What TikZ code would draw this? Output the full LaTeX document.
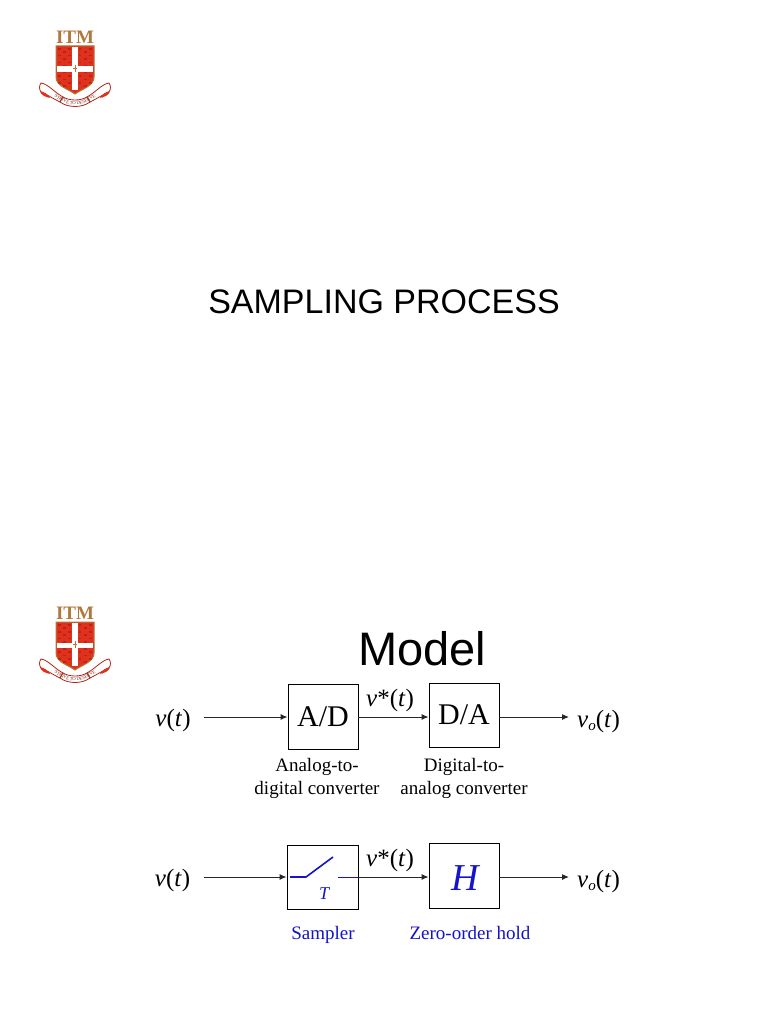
\documentclass[tikz,border=0pt]{standalone}
\usepackage{fontspec}
\setmainfont{Liberation Serif}
\newfontfamily\arialf{Liberation Sans}
\usetikzlibrary{arrows.meta,decorations.text}
\definecolor{itmgold}{RGB}{176,120,60}
\definecolor{itmred}{RGB}{222,50,30}
\definecolor{sigblue}{RGB}{20,20,200}
\newcommand{\fsz}[1]{\fontsize{#1}{#1}\selectfont}
\tikzset{
  x=1pt,y=-1pt,
  block/.style={draw=black,line width=0.9pt,fill=white,minimum width=0pt,inner sep=0pt},
  wire/.style={draw=black!85,line width=1pt,-{Latex[length=7pt,width=6pt]}},
  sig/.style={font=\fsz{25},inner sep=0pt},
  captext/.style={font=\fontsize{19}{23}\selectfont,inner sep=0pt,align=center},
  bluecap/.style={captext,text=sigblue,anchor=base},
  itmlogo/.pic={
    \node[font=\fsz{19}\bfseries,text=itmgold,inner sep=0pt] (-itm) at (75,37.5) {ITM};
    \fill[itmred,draw=itmgold,line width=1pt] (56,46) -- (94,46) -- (94,77) .. controls (94,86) and (82,89) .. (75,94) .. controls (68,89) and (56,86) .. (56,77) -- cycle;
    \foreach \i in {0,...,6}{\foreach \j in {0,...,11}{
      \pgfmathparse{int(mod(\i+\j,2))}
      \ifnum\pgfmathresult=0 \fill[red!55!black,opacity=.35] (58+\i*5.2,48+\j*3.4) rectangle +(2.6,1.7);\fi}}
    \fill[white] (72,47) rectangle (78,90);
    \fill[white] (57,66.5) rectangle (93,72);
    \draw[itmgold,line width=0.6pt] (75,65) -- (75,72) (73,68) -- (77,68);
    \draw[itmred!80!black,fill=white,line width=0.8pt] (41,83) .. controls (48,84) and (54,92) .. (63,97) -- (60,102) .. controls (52,98) and (46,94) .. (41,92) .. controls (39,89) and (39,86) .. (41,83) -- cycle;
    \draw[itmred!80!black,fill=white,line width=0.8pt] (109,83) .. controls (102,84) and (96,92) .. (87,97) -- (90,102) .. controls (98,98) and (104,94) .. (109,92) .. controls (111,89) and (111,86) .. (109,83) -- cycle;
    \draw[itmred!80!black,fill=white,line width=0.8pt] (63,97) .. controls (70,101) and (80,101) .. (87,97) -- (90,102) .. controls (82,108) and (68,108) .. (60,102) -- cycle;
    \fill[itmred] (40,91) .. controls (44,92) and (48,94) .. (50,98) .. controls (45,97) and (41,95) .. (40,91) -- cycle;
    \fill[itmred] (110,91) .. controls (106,92) and (102,94) .. (100,98) .. controls (105,97) and (109,95) .. (110,91) -- cycle;
    \path[decorate,decoration={text along path,text align=center,text={|\fsz{4.6}\color{itmred!60!black}|STRIVE TO DESERVE}}] (43,89) .. controls (55,97) and (65,105) .. (75,105) .. controls (85,105) and (95,97) .. (107,89);
  }
}
\begin{document}
\begin{tikzpicture}
\useasboundingbox (0,0) rectangle (768,1024);
\fill[white] (0,0) rectangle (768,1024);
\pic (logoa) at (0,0) {itmlogo};
\pic (logob) at (0,576) {itmlogo};
\node[font=\arialf\fsz{34},inner sep=0pt] (title) at (384,302) {SAMPLING PROCESS};
\node[font=\arialf\fsz{47},inner sep=0pt] (model) at (422,649) {Model};

% first row
\node[block,minimum width=70pt,minimum height=65pt,font=\fsz{30}] (ad) at (323,716.5) {A/D};
\node[block,minimum width=70pt,minimum height=64pt,font=\fsz{30}] (da) at (464,715) {D/A};
\node[sig] (v1) at (173,720) {\textit{v}(\textit{t})};
\node[sig] (vs1) at (390,700) {\textit{v}*(\textit{t})};
\node[sig] (vo1) at (598.5,721) {\textit{v\fsz{15}\raisebox{-3pt}{o}}(\textit{t})};
\coordinate (in1) at (204,717);
\coordinate (out1) at (569,717);
\draw[wire] (in1) -- (ad.west |- in1);
\draw[wire] (ad.east |- in1) -- (da.west |- in1);
\draw[wire] (da.east |- in1) -- (out1);
\node[captext] (adcap) at (317,778.5) {Analog-to-\\digital converter};
\node[captext] (dacap) at (464,778.5) {Digital-to-\\analog converter};

% second row
\node[block,minimum width=71pt,minimum height=64pt] (smp) at (322.5,877) {};
\node[block,minimum width=70pt,minimum height=65pt,font=\fsz{38}\itshape,text=sigblue,text height=30pt,text depth=0pt] (h) at (464,875.5) {\hspace{3pt}H};
\node[sig] (v2) at (172.5,880) {\textit{v}(\textit{t})};
\node[sig] (vs2) at (390,860) {\textit{v}*(\textit{t})};
\node[sig] (vo2) at (598.5,881) {\textit{v\fsz{15}\raisebox{-3pt}{o}}(\textit{t})};
\coordinate (in2) at (204,877);
\coordinate (out2) at (569,877);
\coordinate (swa) at (290,877);
\coordinate (swb) at (306,877);
\coordinate (swc) at (333,857);
\coordinate (swd) at (338,877);
\draw[wire] (in2) -- (smp.west |- in2);
\draw[wire] (smp.east |- in2) -- (h.west |- in2);
\draw[wire] (h.east |- in2) -- (out2);
\draw[sigblue,line width=1.6pt] (swa) -- (swb) -- (swc);
\draw[sigblue,line width=0.9pt] (swd) -- (smp.east |- swd);
\node[font=\fsz{18}\itshape,text=sigblue,inner sep=0pt] (tlab) at (324,893.5) {T};
\node[bluecap] (smpcap) at (323,939) {Sampler};
\node[bluecap] (hcap) at (470,939) {Zero-order hold};
\end{tikzpicture}
\end{document}
